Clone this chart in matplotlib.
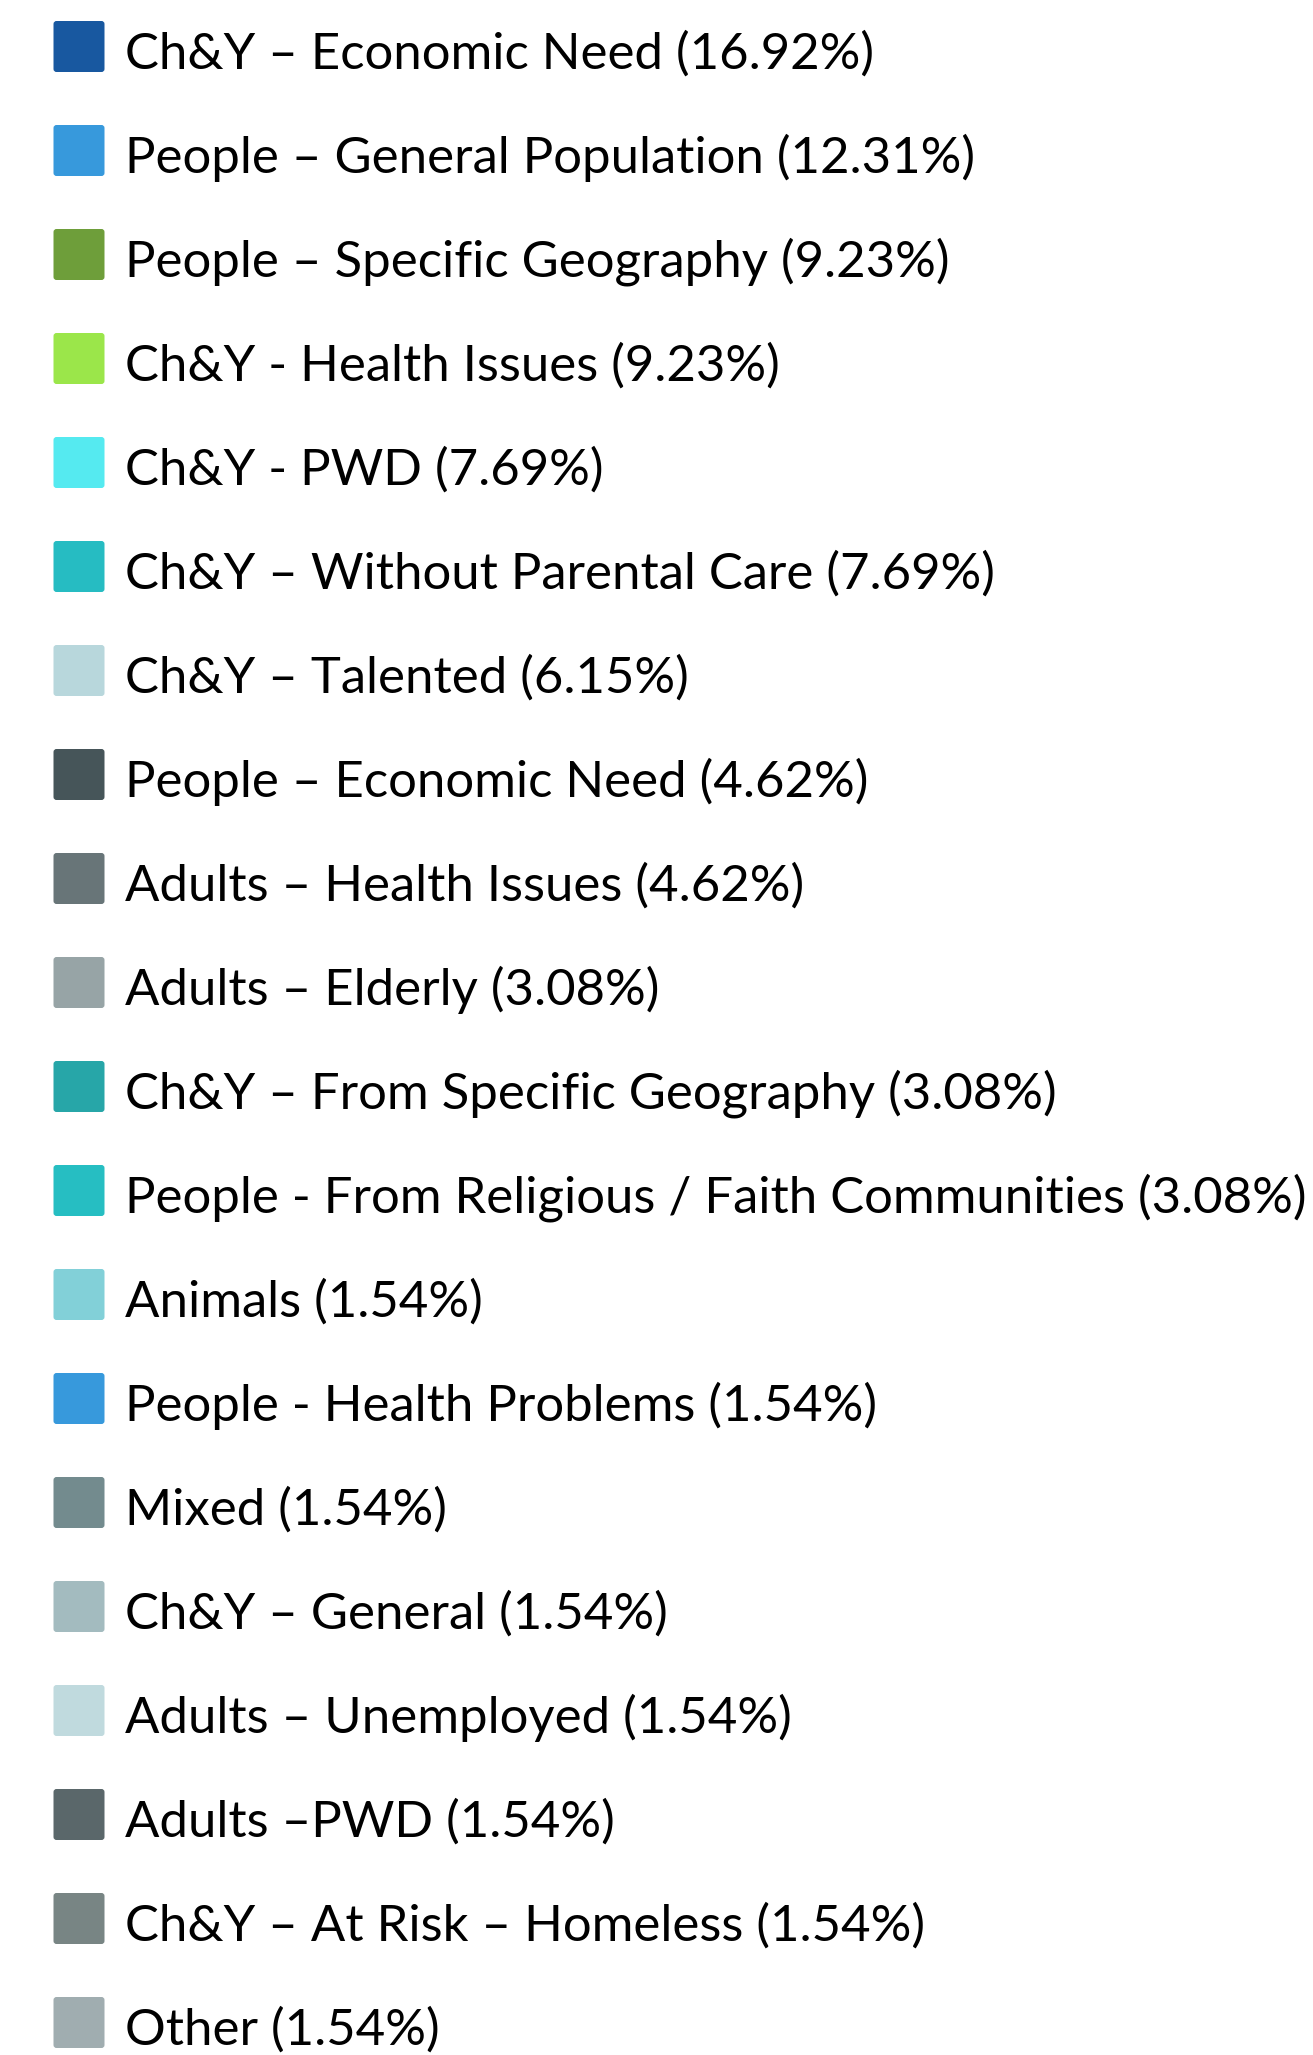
import matplotlib.pyplot as plt
from matplotlib.patches import FancyBboxPatch

names = ['Ch&Y – Economic Need', 'People – General Population', 'People – Specific Geography',
         'Ch&Y - Health Issues', 'Ch&Y - PWD', 'Ch&Y – Without Parental Care', 'Ch&Y – Talented',
         'People – Economic Need', 'Adults – Health Issues', 'Adults – Elderly',
         'Ch&Y – From Specific Geography', 'People - From Religious / Faith Communities',
         'Animals', 'People - Health Problems', 'Mixed', 'Ch&Y – General', 'Adults – Unemployed',
         'Adults –PWD', 'Ch&Y – At Risk – Homeless', 'Other']
shares = [16.92, 12.31, 9.23, 9.23, 7.69, 7.69, 6.15, 4.62, 4.62, 3.08,
          3.08, 3.08, 1.54, 1.54, 1.54, 1.54, 1.54, 1.54, 1.54, 1.54]
colors = ['#1858a0', '#3799dc', '#6e9e3a', '#9be64a', '#55eaf0', '#26bcc2', '#b8d7dc',
          '#465559', '#687578', '#97a4a6', '#27a6a8', '#26bec2', '#82d0d8', '#3799dc',
          '#738b8e', '#a3bbbf', '#c0dade', '#5a676a', '#788584', '#a0adb0']

W, H = 1313, 2055
fig = plt.figure(figsize=(W / 100, H / 100), dpi=100)
ax = fig.add_axes([0, 0, 1, 1])
ax.set_xlim(0, W)
ax.set_ylim(H, 0)
ax.axis('off')

top = 46.5
step = 104.0
box = 51
for i, (name, pct, c) in enumerate(zip(names, shares, colors)):
    yc = top + i * step
    ax.add_patch(FancyBboxPatch((53.5, yc - box / 2), box, box,
                                boxstyle='round,pad=0,rounding_size=3',
                                facecolor=c, edgecolor='none'))
    ax.text(125, yc + 22.5, f'{name} ({pct:.2f}%)', fontsize=36.6,
            family=['Lato', 'DejaVu Sans'], va='baseline', ha='left', color='black')

fig.savefig('out.png', dpi=100)
